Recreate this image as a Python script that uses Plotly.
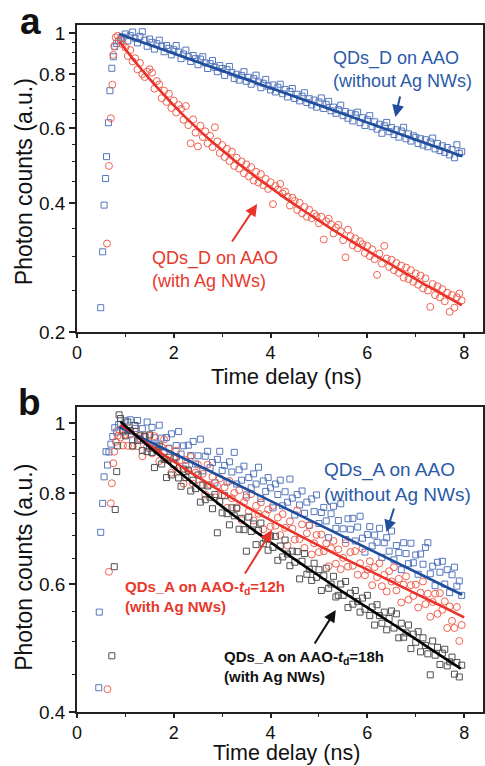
import plotly.graph_objects as go

# ---------------- data ----------------
T_DECAY = [
    0.90, 0.95, 1.00, 1.05, 1.10, 1.15, 1.20, 1.25, 1.30, 1.35,
    1.40, 1.45, 1.50, 1.55, 1.60, 1.65, 1.70, 1.75, 1.80, 1.85,
    1.90, 1.95, 2.00, 2.05, 2.10, 2.15, 2.20, 2.25, 2.30, 2.35,
    2.40, 2.45, 2.50, 2.55, 2.60, 2.65, 2.70, 2.75, 2.80, 2.85,
    2.90, 2.95, 3.00, 3.05, 3.10, 3.15, 3.20, 3.25, 3.30, 3.35,
    3.40, 3.45, 3.50, 3.55, 3.60, 3.65, 3.70, 3.75, 3.80, 3.85,
    3.90, 3.95, 4.00, 4.05, 4.10, 4.15, 4.20, 4.25, 4.30, 4.35,
    4.40, 4.45, 4.50, 4.55, 4.60, 4.65, 4.70, 4.75, 4.80, 4.85,
    4.90, 4.95, 5.00, 5.05, 5.10, 5.15, 5.20, 5.25, 5.30, 5.35,
    5.40, 5.45, 5.50, 5.55, 5.60, 5.65, 5.70, 5.75, 5.80, 5.85,
    5.90, 5.95, 6.00, 6.05, 6.10, 6.15, 6.20, 6.25, 6.30, 6.35,
    6.40, 6.45, 6.50, 6.55, 6.60, 6.65, 6.70, 6.75, 6.80, 6.85,
    6.90, 6.95, 7.00, 7.05, 7.10, 7.15, 7.20, 7.25, 7.30, 7.35,
    7.40, 7.45, 7.50, 7.55, 7.60, 7.65, 7.70, 7.75, 7.80, 7.85,
    7.90, 7.95,
]

# Panel a, QDs_D on AAO (without Ag NWs)
A_BLUE_RISE_T = [0.49, 0.53, 0.56, 0.59, 0.61, 0.65, 0.68, 0.72, 0.75, 0.78, 0.82, 0.86]
A_BLUE_RISE_Y = [0.228, 0.308, 0.396, 0.457, 0.514, 0.617, 0.733, 0.827, 0.880, 0.929, 0.945, 0.958]
A_BLUE_DECAY = [
    0.962, 0.978, 0.995, 0.958, 0.986, 1.005, 0.972, 0.948, 0.982, 1.007,
    0.962, 0.931, 0.968, 0.951, 0.917, 0.944, 0.962, 0.931, 0.904, 0.935,
    0.921, 0.889, 0.914, 0.935, 0.902, 0.871, 0.893, 0.912, 0.880, 0.858,
    0.886, 0.871, 0.843, 0.869, 0.880, 0.851, 0.826, 0.848, 0.862, 0.831,
    0.812, 0.839, 0.826, 0.796, 0.821, 0.835, 0.808, 0.783, 0.801, 0.776,
    0.795, 0.812, 0.771, 0.788, 0.759, 0.782, 0.797, 0.768, 0.745, 0.763,
    0.779, 0.751, 0.736, 0.756, 0.728, 0.747, 0.759, 0.721, 0.738, 0.709,
    0.730, 0.742, 0.703, 0.719, 0.694, 0.712, 0.725, 0.688, 0.702, 0.679,
    0.697, 0.671, 0.690, 0.705, 0.666, 0.681, 0.692, 0.658, 0.671, 0.649,
    0.662, 0.678, 0.641, 0.655, 0.632, 0.649, 0.623, 0.644, 0.653, 0.617,
    0.634, 0.608, 0.627, 0.641, 0.604, 0.620, 0.596, 0.612, 0.583, 0.607,
    0.618, 0.588, 0.601, 0.579, 0.594, 0.571, 0.590, 0.602, 0.566, 0.581,
    0.559, 0.575, 0.570, 0.552, 0.566, 0.547, 0.563, 0.542, 0.556, 0.568,
    0.536, 0.552, 0.531, 0.545, 0.526, 0.540, 0.519, 0.534, 0.511, 0.548,
    0.523, 0.528,
]
A_BLUE_FIT_T = [0.87, 7.96]
A_BLUE_FIT_Y = [0.995, 0.515]

# Panel a, QDs_D on AAO (with Ag NWs)
A_RED_RISE_T = [0.62, 0.66, 0.70, 0.73, 0.75, 0.77, 0.80, 0.84]
A_RED_RISE_Y = [0.322, 0.489, 0.632, 0.757, 0.889, 0.932, 0.977, 0.985]
A_RED_DECAY = [
    0.972, 0.941, 0.925, 0.884, 0.912, 0.858, 0.873, 0.822, 0.851, 0.801,
    0.789, 0.812, 0.823, 0.808, 0.741, 0.772, 0.758, 0.704, 0.733, 0.690,
    0.721, 0.668, 0.695, 0.652, 0.679, 0.665, 0.627, 0.675, 0.609, 0.552,
    0.628, 0.585, 0.543, 0.607, 0.571, 0.589, 0.552, 0.575, 0.541, 0.602,
    0.558, 0.524, 0.547, 0.513, 0.536, 0.502, 0.528, 0.489, 0.511, 0.482,
    0.501, 0.470, 0.493, 0.462, 0.486, 0.452, 0.474, 0.447, 0.468, 0.441,
    0.456, 0.432, 0.448, 0.398, 0.439, 0.431, 0.444, 0.421, 0.426, 0.414,
    0.395, 0.412, 0.405, 0.386, 0.401, 0.379, 0.392, 0.372, 0.386, 0.369,
    0.378, 0.373, 0.359, 0.372, 0.329, 0.363, 0.368, 0.357, 0.340, 0.351,
    0.356, 0.344, 0.328, 0.299, 0.347, 0.335, 0.319, 0.331, 0.314, 0.326,
    0.321, 0.306, 0.318, 0.301, 0.312, 0.296, 0.272, 0.305, 0.289, 0.318,
    0.297, 0.284, 0.295, 0.279, 0.290, 0.275, 0.286, 0.268, 0.283, 0.266,
    0.279, 0.262, 0.274, 0.258, 0.271, 0.253, 0.267, 0.250, 0.229, 0.259,
    0.244, 0.256, 0.241, 0.252, 0.236, 0.247, 0.223, 0.244, 0.228, 0.241,
    0.246, 0.237,
]
A_RED_FIT_T = [0.88, 1.00, 1.25, 1.50, 1.75, 2.00, 2.25, 2.50, 2.75, 3.00, 3.25, 3.50, 3.75, 4.00, 4.25,
               4.50, 4.75, 5.00, 5.25, 5.50, 5.75, 6.00, 6.25, 6.50, 6.75, 7.00, 7.25, 7.50, 7.75, 7.95]
A_RED_FIT_Y = [0.955, 0.916, 0.844, 0.781, 0.726, 0.677, 0.634, 0.596, 0.562, 0.532, 0.504, 0.479, 0.456, 0.435, 0.415,
               0.397, 0.380, 0.364, 0.349, 0.335, 0.322, 0.310, 0.298, 0.287, 0.276, 0.266, 0.256, 0.247, 0.238, 0.231]

# Panel b, QDs_A on AAO (without Ag NWs)
B_BLUE_RISE_T = [0.45, 0.46, 0.49, 0.53, 0.56, 0.60, 0.63, 0.66, 0.70, 0.74, 0.78, 0.82, 0.86]
B_BLUE_RISE_Y = [0.432, 0.549, 0.707, 0.775, 0.843, 0.913, 0.875, 0.912, 0.935, 0.958, 0.985, 0.972, 0.995]
B_BLUE_DECAY = [
    0.996, 0.972, 1.007, 0.975, 1.010, 0.948, 0.983, 1.008, 0.947, 0.982,
    0.958, 1.003, 0.923, 0.986, 0.954, 0.932, 0.993, 0.953, 0.912, 0.955,
    0.923, 0.966, 0.880, 0.931, 0.973, 0.906, 0.930, 0.873, 0.932, 0.902,
    0.943, 0.878, 0.901, 0.950, 0.859, 0.900, 0.914, 0.868, 0.882, 0.827,
    0.891, 0.914, 0.860, 0.874, 0.829, 0.884, 0.856, 0.911, 0.824, 0.862,
    0.834, 0.872, 0.796, 0.841, 0.814, 0.851, 0.824, 0.869, 0.787, 0.832,
    0.805, 0.841, 0.814, 0.764, 0.824, 0.797, 0.834, 0.769, 0.804, 0.778,
    0.837, 0.788, 0.747, 0.797, 0.771, 0.806, 0.751, 0.778, 0.723, 0.786,
    0.755, 0.796, 0.727, 0.753, 0.765, 0.733, 0.695, 0.750, 0.768, 0.716,
    0.734, 0.774, 0.715, 0.691, 0.738, 0.714, 0.739, 0.688, 0.719, 0.744,
    0.694, 0.664, 0.702, 0.720, 0.677, 0.701, 0.685, 0.716, 0.653, 0.684,
    0.695, 0.666, 0.710, 0.648, 0.678, 0.663, 0.628, 0.684, 0.661, 0.640,
    0.683, 0.642, 0.658, 0.619, 0.660, 0.639, 0.674, 0.684, 0.620, 0.635,
    0.597, 0.643, 0.623, 0.645, 0.600, 0.628, 0.584, 0.618, 0.633, 0.596,
    0.606, 0.579,
]
B_BLUE_FIT_T = [0.87, 7.96]
B_BLUE_FIT_Y = [0.988, 0.580]

# Panel b, QDs_A on AAO-td=12h (with Ag NWs)
B_RED_RISE_T = [0.63, 0.66, 0.70, 0.72, 0.75, 0.77, 0.80, 0.84, 0.87]
B_RED_RISE_Y = [0.430, 0.624, 0.775, 0.826, 0.880, 0.913, 0.942, 0.960, 0.978]
B_RED_DECAY = [
    0.955, 0.931, 0.964, 0.930, 0.964, 0.929, 0.973, 0.929, 0.952, 0.900,
    0.961, 0.928, 0.960, 0.908, 0.959, 0.918, 0.886, 0.926, 0.949, 0.890,
    0.921, 0.854, 0.894, 0.916, 0.858, 0.889, 0.825, 0.889, 0.859, 0.898,
    0.825, 0.854, 0.876, 0.821, 0.851, 0.797, 0.876, 0.822, 0.843, 0.790,
    0.819, 0.839, 0.795, 0.815, 0.764, 0.832, 0.788, 0.801, 0.765, 0.808,
    0.735, 0.778, 0.790, 0.756, 0.798, 0.734, 0.769, 0.750, 0.777, 0.714,
    0.748, 0.760, 0.720, 0.769, 0.722, 0.741, 0.701, 0.749, 0.717, 0.678,
    0.732, 0.715, 0.691, 0.758, 0.692, 0.725, 0.673, 0.705, 0.723, 0.659,
    0.683, 0.701, 0.664, 0.702, 0.666, 0.683, 0.635, 0.672, 0.688, 0.640,
    0.670, 0.629, 0.652, 0.683, 0.634, 0.664, 0.636, 0.666, 0.618, 0.641,
    0.671, 0.617, 0.628, 0.645, 0.598, 0.633, 0.613, 0.641, 0.596, 0.618,
    0.586, 0.625, 0.605, 0.633, 0.588, 0.610, 0.566, 0.599, 0.615, 0.571,
    0.598, 0.578, 0.599, 0.557, 0.584, 0.605, 0.563, 0.582, 0.541, 0.567,
    0.582, 0.546, 0.583, 0.553, 0.568, 0.522, 0.559, 0.534, 0.522, 0.558,
    0.501, 0.527,
]
B_RED_FIT_T = [0.90, 1.50, 2.00, 2.50, 3.00, 3.50, 4.00, 4.50, 5.00, 5.50, 6.00, 6.50, 7.00, 7.50, 8.00]
B_RED_FIT_Y = [0.995, 0.932, 0.885, 0.842, 0.803, 0.767, 0.735, 0.705, 0.678, 0.652, 0.628, 0.605, 0.582, 0.561, 0.540]

# Panel b, QDs_A on AAO-td=18h (with Ag NWs)
B_BLACK_RISE_T = [0.72, 0.77, 0.79, 0.82, 0.84, 0.87]
B_BLACK_RISE_Y = [0.478, 0.634, 0.760, 0.857, 0.930, 1.026]
B_BLACK_DECAY = [
    1.014, 0.977, 0.960, 1.003, 0.976, 0.930, 0.992, 0.946, 0.960, 0.916,
    0.957, 0.913, 0.963, 0.911, 0.868, 0.917, 0.929, 0.878, 0.891, 0.841,
    0.897, 0.848, 0.877, 0.898, 0.840, 0.818, 0.864, 0.841, 0.861, 0.806,
    0.834, 0.812, 0.848, 0.778, 0.821, 0.784, 0.819, 0.790, 0.762, 0.797,
    0.706, 0.780, 0.752, 0.794, 0.750, 0.724, 0.764, 0.745, 0.763, 0.714,
    0.739, 0.713, 0.666, 0.742, 0.709, 0.726, 0.680, 0.711, 0.728, 0.682,
    0.692, 0.668, 0.699, 0.674, 0.698, 0.647, 0.677, 0.654, 0.690, 0.660,
    0.636, 0.666, 0.643, 0.665, 0.610, 0.645, 0.661, 0.619, 0.629, 0.607,
    0.641, 0.613, 0.628, 0.588, 0.616, 0.631, 0.592, 0.600, 0.615, 0.576,
    0.579, 0.600, 0.579, 0.605, 0.557, 0.583, 0.563, 0.588, 0.568, 0.549,
    0.574, 0.554, 0.579, 0.543, 0.558, 0.527, 0.562, 0.543, 0.530, 0.549,
    0.519, 0.538, 0.551, 0.522, 0.546, 0.506, 0.530, 0.507, 0.514, 0.527,
    0.489, 0.512, 0.499, 0.516, 0.484, 0.506, 0.494, 0.481, 0.450, 0.501,
    0.479, 0.491, 0.465, 0.482, 0.488, 0.463, 0.469, 0.476, 0.451, 0.468,
    0.447, 0.464,
]
B_BLACK_FIT_T = [0.90, 1.50, 2.00, 2.50, 3.00, 3.50, 4.00, 4.50, 5.00, 5.50, 6.00, 6.50, 7.00, 7.50, 7.93]
B_BLACK_FIT_Y = [1.004, 0.926, 0.868, 0.815, 0.767, 0.724, 0.685, 0.649, 0.616, 0.585, 0.557, 0.530, 0.504, 0.479, 0.459]

X_TICKS = [0, 2, 4, 6, 8]
X_MINOR = [1, 3, 5, 7]
A_Y_TICKS = [0.2, 0.4, 0.6, 0.8, 1]
A_Y_MINOR = [0.25, 0.3, 0.35, 0.45, 0.5, 0.55, 0.65, 0.7, 0.75, 0.85, 0.9, 0.95]
B_Y_TICKS = [0.4, 0.6, 0.8, 1]
B_Y_MINOR = [0.45, 0.5, 0.55, 0.65, 0.7, 0.75, 0.85, 0.9, 0.95]

# ---------------- styles ----------------
FONT = "Liberation Sans, Arial, sans-serif"
C_BLUE_PT = "#5677bd"
C_RED_PT = "#f1604f"
C_BLACK_PT = "#505050"
C_BLUE_LN = "#1f4e9c"
C_RED_LN = "#e8322a"
C_BLACK_LN = "#000000"
C_BLUE_TXT = "#2a5aa8"
C_RED_TXT = "#e8382b"
AXIS_C = "#222222"

fig = go.Figure()


def add_points(x, y, symbol, color, size, xa, ya):
    fig.add_trace(go.Scatter(
        x=x, y=y, mode="markers", xaxis=xa, yaxis=ya, showlegend=False, hoverinfo="skip",
        marker=dict(symbol=symbol, size=size, color=color, line=dict(color=color, width=1)),
    ))


def add_fit(x, y, color, xa, ya):
    fig.add_trace(go.Scatter(
        x=x, y=y, mode="lines", xaxis=xa, yaxis=ya, showlegend=False, hoverinfo="skip",
        line=dict(color=color, width=2.6, shape="spline", smoothing=0.6),
    ))


# panel a
add_points(A_BLUE_RISE_T + T_DECAY, A_BLUE_RISE_Y + A_BLUE_DECAY, "square-open", C_BLUE_PT, 6, "x", "y")
add_points(A_RED_RISE_T + T_DECAY, A_RED_RISE_Y + A_RED_DECAY, "circle-open", C_RED_PT, 7, "x", "y")
add_fit(A_BLUE_FIT_T, A_BLUE_FIT_Y, C_BLUE_LN, "x", "y")
add_fit(A_RED_FIT_T, A_RED_FIT_Y, C_RED_LN, "x", "y")

# panel b
add_points(B_BLUE_RISE_T + T_DECAY, B_BLUE_RISE_Y + B_BLUE_DECAY, "square-open", C_BLUE_PT, 6, "x2", "y2")
add_points(B_RED_RISE_T + T_DECAY, B_RED_RISE_Y + B_RED_DECAY, "circle-open", C_RED_PT, 7, "x2", "y2")
add_points(B_BLACK_RISE_T + T_DECAY, B_BLACK_RISE_Y + B_BLACK_DECAY, "square-open", C_BLACK_PT, 6, "x2", "y2")
add_fit(B_BLUE_FIT_T, B_BLUE_FIT_Y, C_BLUE_LN, "x2", "y2")
add_fit(B_RED_FIT_T, B_RED_FIT_Y, C_RED_LN, "x2", "y2")
add_fit(B_BLACK_FIT_T, B_BLACK_FIT_Y, C_BLACK_LN, "x2", "y2")

x_common = dict(
    range=[0, 8.39], tickmode="array", tickvals=X_TICKS, ticktext=[str(v) for v in X_TICKS],
    ticks="outside", ticklen=4, tickwidth=1.5, tickcolor=AXIS_C,
    minor=dict(tickmode="array", tickvals=X_MINOR, ticks="outside", ticklen=3, tickwidth=1.2, tickcolor=AXIS_C),
    showline=True, linecolor=AXIS_C, linewidth=1.5, mirror=True,
    showgrid=False, zeroline=False, tickfont=dict(size=18, color="#111", family=FONT),
)


def y_common(ticks, minor, rng):
    return dict(
        type="log", range=rng, tickmode="array", tickvals=ticks,
        ticktext=[("%g" % v) for v in ticks],
        ticks="outside", ticklen=6, tickwidth=1.5, tickcolor=AXIS_C,
        minor=dict(tickmode="array", tickvals=minor, ticks="outside", ticklen=3.5, tickwidth=1.2, tickcolor=AXIS_C),
        showline=True, linecolor=AXIS_C, linewidth=1.5, mirror=True,
        showgrid=False, zeroline=False, tickfont=dict(size=19, color="#111", family=FONT),
    )


fig.update_layout(
    width=485, height=766,
    margin=dict(l=77, r=0, t=25, b=54),
    paper_bgcolor="white", plot_bgcolor="white",
    font=dict(family=FONT, color="#111"),
    xaxis=dict(domain=[0, 1], anchor="y", **x_common),
    yaxis=dict(domain=[0.5531, 1], anchor="x", **y_common(A_Y_TICKS, A_Y_MINOR, [-0.69897, 0.0187])),
    xaxis2=dict(domain=[0, 1], anchor="y2", **x_common),
    yaxis2=dict(domain=[0, 0.444], anchor="x2", **y_common(B_Y_TICKS, B_Y_MINOR, [-0.39794, 0.022])),
)

ann = []
# axis titles
ann.append(dict(text="Time delay (ns)", x=0.516, y=0.4880, xref="paper", yref="paper", showarrow=False,
                xanchor="center", yanchor="middle", font=dict(size=22, family=FONT, color="#111")))
ann.append(dict(text="Time delay (ns)", x=0.516, y=-0.0590, xref="paper", yref="paper", showarrow=False,
                xanchor="center", yanchor="middle", font=dict(size=21.5, family=FONT, color="#111")))
ann.append(dict(text="Photon counts (a.u.)", x=-0.130, y=0.7715, xref="paper", yref="paper", showarrow=False,
                textangle=-90, xanchor="center", yanchor="middle", font=dict(size=23, family=FONT, color="#111")))
ann.append(dict(text="Photon counts (a.u.)", x=-0.1324, y=0.2103, xref="paper", yref="paper", showarrow=False,
                textangle=-90, xanchor="center", yanchor="middle", font=dict(size=23, family=FONT, color="#111")))
# panel letters
ann.append(dict(text="<b>a</b>", x=-0.1152, y=1.0045, xref="paper", yref="paper", showarrow=False,
                xanchor="center", yanchor="middle", font=dict(size=37, family=FONT, color="#111")))
ann.append(dict(text="<b>b</b>", x=-0.1176, y=0.4498, xref="paper", yref="paper", showarrow=False,
                xanchor="center", yanchor="middle", font=dict(size=37, family=FONT, color="#111")))
# labels
ann.append(dict(text="QDs_D on AAO<br>(without Ag NWs)", x=0.625, y=0.9345, xref="paper", yref="paper",
                showarrow=False, xanchor="left", yanchor="middle", align="left",
                font=dict(size=18, family=FONT, color=C_BLUE_TXT)))
ann.append(dict(text="QDs_D on AAO<br>(with Ag NWs)", x=0.1789, y=0.6448, xref="paper", yref="paper",
                showarrow=False, xanchor="left", yanchor="middle", align="left",
                font=dict(size=18, family=FONT, color=C_RED_TXT)))
ann.append(dict(text="QDs_A on AAO<br>(without Ag NWs)", x=0.6029, y=0.3341, xref="paper", yref="paper",
                showarrow=False, xanchor="left", yanchor="middle", align="left",
                font=dict(size=19, family=FONT, color=C_BLUE_TXT)))
ann.append(dict(text="<b>QDs_A on AAO-<i>t</i><sub>d</sub>=12h<br>(with Ag NWs)</b>", x=0.1127, y=0.1678,
                xref="paper", yref="paper", showarrow=False, xanchor="left", yanchor="middle", align="left",
                font=dict(size=15, family=FONT, color=C_RED_TXT)))
ann.append(dict(text="<b>QDs_A on AAO-<i>t</i><sub>d</sub>=18h<br>(with Ag NWs)</b>", x=0.3578, y=0.0665,
                xref="paper", yref="paper", showarrow=False, xanchor="left", yanchor="middle", align="left",
                font=dict(size=15, family=FONT, color="#111")))
# arrows
for (hx, hy, ax, ay, col) in [
    (0.7843, 0.8661, 5, -22, C_BLUE_LN),
    (0.4436, 0.7394, -26, 39, C_RED_LN),
    (0.7623, 0.2620, 8, -25, C_BLUE_LN),
    (0.4804, 0.2649, -28, 45, C_RED_LN),
    (0.6373, 0.1485, -22, 35, "#111111"),
]:
    ann.append(dict(text="", x=hx, y=hy, xref="paper", yref="paper", ax=ax, ay=ay, showarrow=True,
                    arrowhead=2, arrowsize=1.2, arrowwidth=2, arrowcolor=col))

fig.update_layout(annotations=ann)
fig.write_html(
    "out.html",
    config={"displayModeBar": False},
    post_script="document.body.style.margin='0';document.body.style.overflow='hidden';",
)
